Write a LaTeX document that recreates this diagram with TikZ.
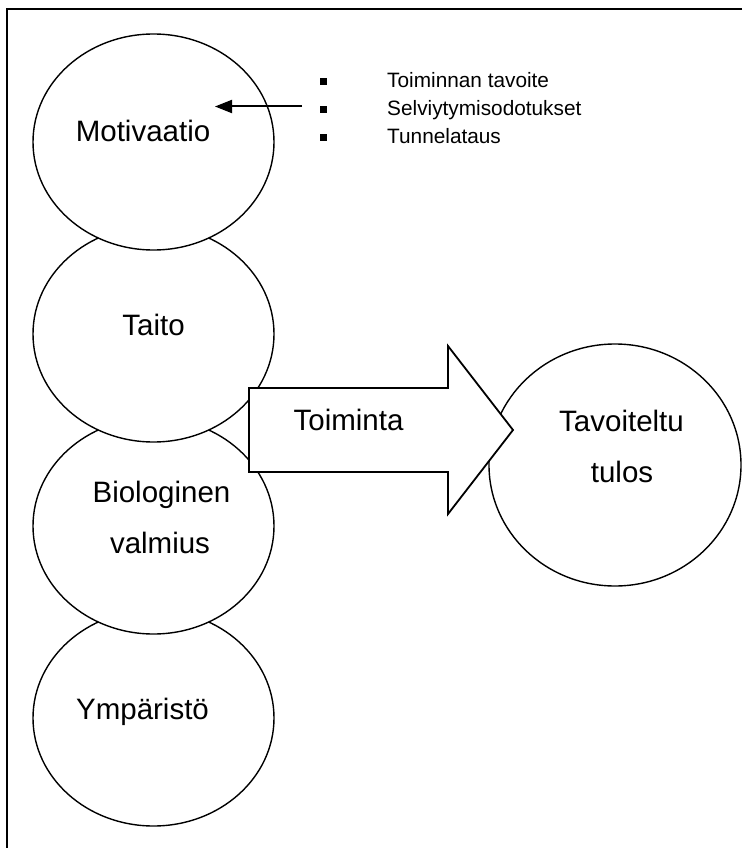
\documentclass[tikz,border=0pt]{standalone}
\usepackage{fontspec}
\setmainfont{Liberation Sans}
\usetikzlibrary{shapes.geometric,arrows.meta}
\tikzset{
  blob/.style={ellipse, draw=black, fill=white, line width=1.4pt, minimum width=241pt, minimum height=216pt, inner sep=0pt},
  goal/.style={ellipse, draw=black, fill=white, line width=1.4pt, minimum width=252pt, minimum height=242pt, inner sep=0pt},
  big/.style={font=\fontsize{29.5}{34}\selectfont, inner sep=0pt, anchor=base},
  small/.style={font=\fontsize{20.8}{24}\selectfont, inner sep=0pt, anchor=base west},
  bul/.style={fill=black, minimum size=7pt, inner sep=0pt},
  bigarrow/.style={draw=black, fill=white, line width=1.8pt, line join=miter},
  pointer/.style={line width=2pt, -{Triangle[length=17pt,width=13pt]}},
  frame/.style={line width=2.2pt}
}
\begin{document}
\begin{tikzpicture}[x=1pt,y=-1pt]
\useasboundingbox (0,0) rectangle (742,848);
\fill[white] (0,0) rectangle (742,848);
% frame (only top and left visible)
\coordinate (fTL) at (7,9);
\coordinate (fTR) at (742,9);
\coordinate (fBL) at (7,848);
\draw[frame] (fTR) -- (fTL) -- (fBL);
% ellipses, bottom-most first
\node[blob] (ymp) at (153.5,718) {};
\node[blob] (bio) at (153.5,526) {};
\node[blob] (taito) at (153.5,334) {};
\node[blob] (moti) at (153.5,142) {};
\node[goal] (goal) at (615,465) {};
% big arrow
\draw[bigarrow] (249,388) -- (448,388) -- (448,346) -- (513,430) -- (448,514) -- (448,472) -- (249,472) -- cycle;
% texts
\node[big] (tMoti) at (143,142) {Motivaatio};
\node[big] (tTaito) at (153.5,335) {Taito};
\node[big] (tBio1) at (161.5,502) {Biologinen};
\node[big] (tBio2) at (160,553) {valmius};
\node[big] (tYmp) at (142.5,719) {Ympäristö};
\node[big] (tToim) at (348.5,430) {Toiminta};
\node[big] (tGoal1) at (621.5,431) {Tavoiteltu};
\node[big] (tGoal2) at (622,482) {tulos};
% bullet list
\node[bul] (b1) at (323,82) {};
\node[bul] (b2) at (323,110) {};
\node[bul] (b3) at (323,137) {};
\node[small] (l1) at (387,88) {Toiminnan tavoite};
\node[small] (l2) at (387,116) {Selviytymisodotukset};
\node[small] (l3) at (387,143) {Tunnelataus};
% pointer arrow
\coordinate (pS) at (302,106.5);
\coordinate (pE) at (215,106.5);
\draw[pointer] (pS) -- (pE);
\end{tikzpicture}
\end{document}
